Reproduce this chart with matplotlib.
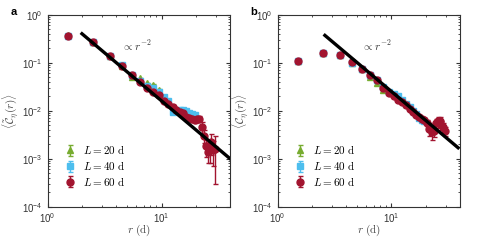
import numpy as np
import matplotlib
matplotlib.use("Agg")
import matplotlib.pyplot as plt
from matplotlib.font_manager import FontProperties

# ---- data ----
r20 = [1.5, 2.5, 3.5, 4.5, 5.5, 6.5, 7.5, 8.5, 9.5]
r40 = [1.5, 2.5, 3.5, 4.5, 5.5, 6.5, 7.5, 8.5, 9.5, 10.5, 11.5, 12.5, 13.5,
       14.5, 15.5, 16.5, 17.5, 18.5, 19.5]
r60 = [1.5, 2.5, 3.5, 4.5, 5.5, 6.5, 7.5, 8.5, 9.5, 10.5, 11.5, 12.5, 13.5,
       14.5, 15.5, 16.5, 17.5, 18.5, 19.5, 20.5, 21.5, 22.5, 23.5, 24.5,
       25.5, 26.5, 27.5, 28.5, 29.5]

# panel a
a20 = [0.37, 0.27, 0.14, 0.086, 0.051, 0.047, 0.037, 0.035, 0.027]
a20_err = [0.01, 0.008, 0.005, 0.003, 0.002, 0.002, 0.0015, 0.0015, 0.0015]
a40 = [0.36, 0.27, 0.14, 0.088, 0.055, 0.042, 0.033, 0.029, 0.024, 0.019,
       0.016, 0.0095, 0.0098, 0.0105, 0.0105, 0.0098, 0.009, 0.0085, 0.008]
a40_err = [0.01, 0.008, 0.005, 0.003, 0.002, 0.0015, 0.0012, 0.001, 0.001,
           0.0009, 0.0008, 0.0008, 0.0008, 0.0008, 0.0008, 0.0008, 0.0008,
           0.0008, 0.0008]
a60 = [0.36, 0.27, 0.14, 0.085, 0.056, 0.039, 0.029, 0.024, 0.021, 0.016,
       0.014, 0.012, 0.0105, 0.0095, 0.0088, 0.0075, 0.007, 0.0066, 0.0063,
       0.0066, 0.0068, 0.0045, 0.003, 0.0018, 0.0014, 0.0016, 0.0022,
       0.0015, 0.0016]
a60_err = [0.01, 0.01, 0.006, 0.004, 0.003, 0.002, 0.0015, 0.0012, 0.001,
           0.0009, 0.0008, 0.0008, 0.0007, 0.0007, 0.0007, 0.0007, 0.0007,
           0.0007, 0.0008, 0.0008, 0.0008, 0.0012, 0.0009, 0.0007, 0.0006,
           0.0008, 0.001, 0.0008, 0.0013]

# panel b
b20 = [0.11, 0.16, 0.145, 0.1, 0.072, 0.05, 0.038, 0.027, 0.024]
b20_err = [0.006, 0.006, 0.005, 0.003, 0.002, 0.002, 0.0015, 0.0012, 0.001]
b40 = [0.108, 0.158, 0.143, 0.1, 0.073, 0.055, 0.043, 0.031, 0.025, 0.022,
       0.02, 0.017, 0.014, 0.012, 0.0098, 0.0085, 0.007, 0.0064, 0.006]
b40_err = [0.006, 0.006, 0.005, 0.003, 0.002, 0.002, 0.0015, 0.0012, 0.001,
           0.001, 0.001, 0.0009, 0.0008, 0.0007, 0.0007, 0.0006, 0.0006,
           0.0006, 0.0006]
b60 = [0.108, 0.158, 0.142, 0.101, 0.073, 0.055, 0.043, 0.030, 0.0235, 0.02,
       0.017, 0.015, 0.013, 0.011, 0.0095, 0.0083, 0.0075, 0.0068, 0.0065,
       0.0055, 0.0042, 0.0036, 0.0038, 0.0055, 0.006, 0.0062, 0.005, 0.0045,
       0.0038]
b60_err = [0.006, 0.006, 0.005, 0.003, 0.002, 0.002, 0.0015, 0.0012, 0.001,
           0.001, 0.0009, 0.0008, 0.0008, 0.0007, 0.0007, 0.0006, 0.0006,
           0.0006, 0.0006, 0.0008, 0.0012, 0.0011, 0.001, 0.0012, 0.0012,
           0.0011, 0.001, 0.0009, 0.0008]

# power-law guide lines: prefactor and r range
fit_a = (1.6, 2.0, 45.0)
fit_b = (2.5, 2.6, 38.5)

labels = [r"$L = 20\ \mathrm{d}$", r"$L = 40\ \mathrm{d}$", r"$L = 60\ \mathrm{d}$"]
colors = ["#77AC30", "#4DBEEE", "#A2142F"]
markers = ["^", "s", "o"]
msizes = [5, 4, 5]

plt.rcParams["font.family"] = ["Liberation Sans", "DejaVu Sans"]
plt.rcParams["mathtext.fontset"] = "dejavusans"

fig = plt.figure(figsize=(4.79, 2.4), dpi=100)
ax_a = fig.add_axes([0.0996, 0.139, 0.3806, 0.80])
ax_b = fig.add_axes([0.5797, 0.139, 0.3806, 0.80])

panels = [
    (ax_a, [(r20, a20, a20_err), (r40, a40, a40_err), (r60, a60, a60_err)],
     fit_a, r"$\langle\tilde{\mathcal{C}}_{\eta}(r)\rangle$", 4.5),
    (ax_b, [(r20, b20, b20_err), (r40, b40, b40_err), (r60, b60, b60_err)],
     fit_b, r"$\langle\mathcal{C}_{\eta}(r)\rangle$", 5.5),
]

legprop = FontProperties(family="DejaVu Sans", size=8, math_fontfamily="cm")

for ax, series, fit, ylab, tx in panels:
    for (rr, cc, ee), col, mk, ms, lab in zip(series, colors, markers, msizes, labels):
        ax.errorbar(rr, cc, yerr=ee, fmt=mk, color=col, ms=ms, mec=col,
                    elinewidth=1.0, capsize=1.8, capthick=1.0, label=lab)
    amp, r0, r1 = fit
    rline = np.array([r0, r1])
    ax.plot(rline, amp * rline ** -2.0, color="black", lw=2.4, zorder=5)
    ax.text(tx, 0.23, r"$\propto r^{-2}$", fontsize=8, math_fontfamily="cm",
            color="#333333", ha="left", va="center")

    ax.set_xscale("log")
    ax.set_yscale("log")
    ax.set_xlim(1, 40)
    ax.set_ylim(1e-4, 1)
    ax.tick_params(which="both", direction="in", top=True, right=True,
                   labelsize=7, colors="#333333")
    ax.tick_params(which="major", length=3)
    ax.tick_params(which="minor", length=1.6)
    for sp in ax.spines.values():
        sp.set_color("#333333")
        sp.set_linewidth(0.8)
    ax.set_xlabel(r"$r\ (\mathrm{d})$", fontsize=8, math_fontfamily="cm",
                  color="#444444", labelpad=-1.5)
    ax.set_ylabel(ylab, fontsize=8, math_fontfamily="cm", color="#444444",
                  labelpad=1)
    ax.legend(loc="lower left", bbox_to_anchor=(0.07, 0.075), frameon=False,
              prop=legprop, handlelength=1.0, handletextpad=0.6,
              labelspacing=0.25, borderaxespad=0)

fig.text(0.022, 0.95, "a", fontsize=8, fontweight="bold", ha="left", va="center")
fig.text(0.523, 0.95, "b", fontsize=8, fontweight="bold", ha="left", va="center")

fig.savefig("out.png", dpi=100)
